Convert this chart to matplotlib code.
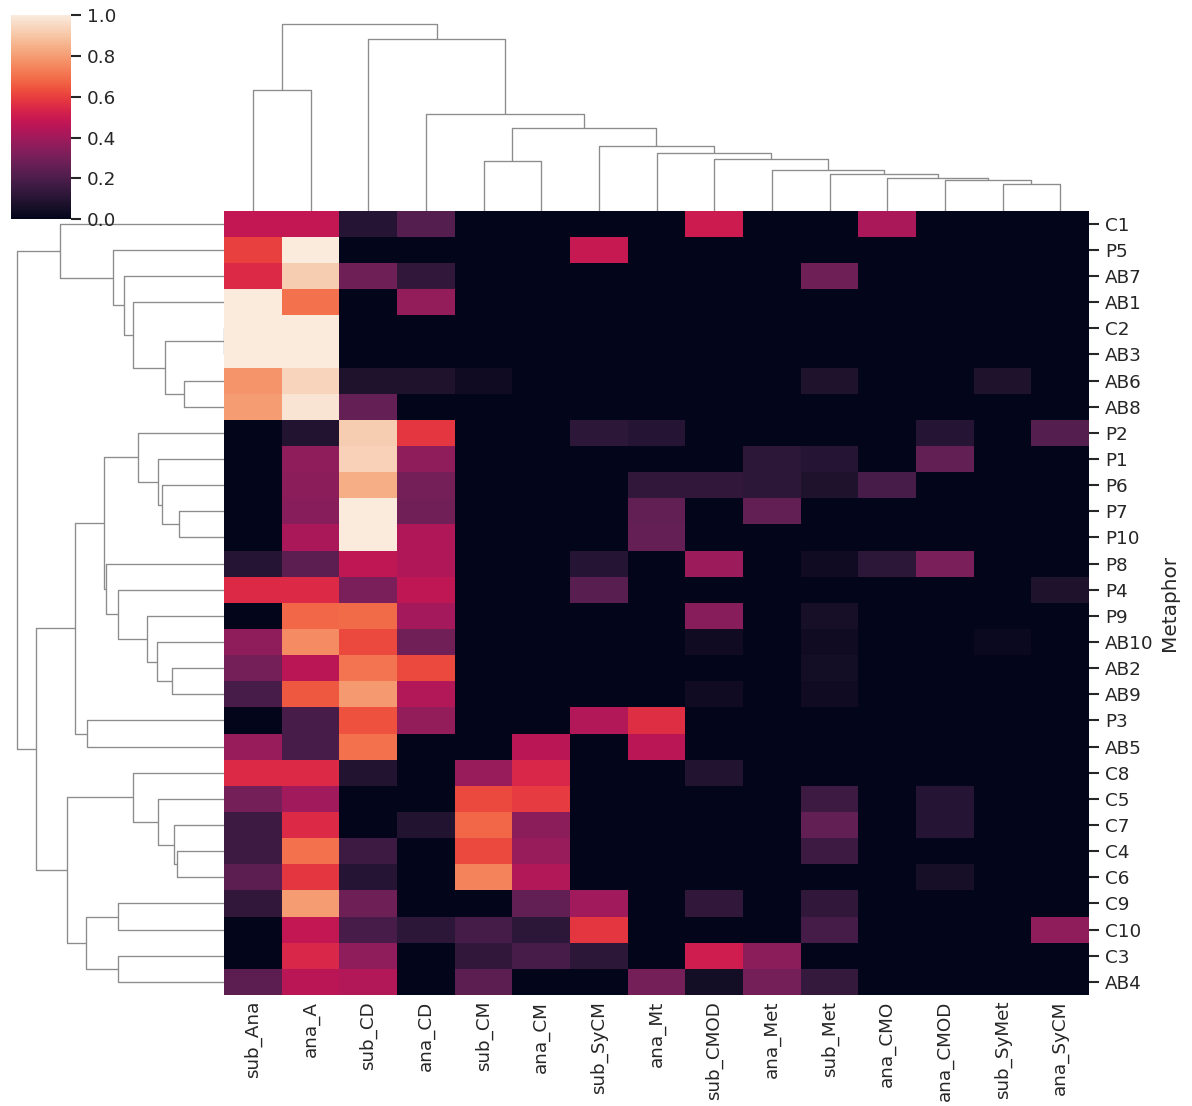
import numpy as np
import matplotlib
matplotlib.use('Agg')
import matplotlib.pyplot as plt
from matplotlib.collections import LineCollection
import seaborn as sns

sns.set_theme(style='white')
plt.rcParams['font.family'] = ['DejaVu Sans']

metaphors = ['C1', 'P5', 'AB7', 'AB1', 'C2', 'AB3', 'AB6', 'AB8', 'P2', 'P1',
             'P6', 'P7', 'P10', 'P8', 'P4', 'P9', 'AB10', 'AB2', 'AB9', 'P3',
             'AB5', 'C8', 'C5', 'C7', 'C4', 'C6', 'C9', 'C10', 'C3', 'AB4']
features = ['sub_Ana', 'ana_A', 'sub_CD', 'ana_CD', 'sub_CM', 'ana_CM',
            'sub_SyCM', 'ana_Mt', 'sub_CMOD', 'ana_Met', 'sub_Met', 'ana_CMO',
            'ana_CMOD', 'sub_SyMet', 'ana_SyCM']

scores = np.array([
    [0.48, 0.48, 0.10, 0.22, 0, 0, 0, 0, 0.50, 0, 0, 0.42, 0, 0, 0],
    [0.60, 1.00, 0, 0, 0, 0, 0.49, 0, 0, 0, 0, 0, 0, 0, 0],
    [0.55, 0.92, 0.28, 0.13, 0, 0, 0, 0, 0, 0, 0.28, 0, 0, 0, 0],
    [1.00, 0.70, 0, 0.37, 0, 0, 0, 0, 0, 0, 0, 0, 0, 0, 0],
    [1.00, 1.00, 0, 0, 0, 0, 0, 0, 0, 0, 0, 0, 0, 0, 0],
    [1.00, 1.00, 0, 0, 0, 0, 0, 0, 0, 0, 0, 0, 0, 0, 0],
    [0.78, 0.94, 0.08, 0.08, 0.04, 0, 0, 0, 0, 0, 0.08, 0, 0, 0.08, 0],
    [0.80, 0.98, 0.26, 0, 0, 0, 0, 0, 0, 0, 0, 0, 0, 0, 0],
    [0, 0.09, 0.92, 0.58, 0, 0, 0.12, 0.10, 0, 0, 0, 0, 0.10, 0, 0.22],
    [0, 0.36, 0.93, 0.36, 0, 0, 0, 0, 0, 0.12, 0.10, 0, 0.25, 0, 0],
    [0, 0.35, 0.84, 0.30, 0, 0, 0, 0.13, 0.13, 0.12, 0.08, 0.19, 0, 0, 0],
    [0, 0.34, 1.00, 0.29, 0, 0, 0, 0.25, 0, 0.25, 0, 0, 0, 0, 0],
    [0, 0.42, 1.00, 0.43, 0, 0, 0, 0.26, 0, 0, 0, 0, 0, 0, 0],
    [0.10, 0.24, 0.47, 0.43, 0, 0, 0.10, 0, 0.39, 0, 0.04, 0.12, 0.31, 0, 0],
    [0.55, 0.55, 0.31, 0.47, 0, 0, 0.23, 0, 0, 0, 0, 0, 0, 0, 0.08],
    [0, 0.68, 0.69, 0.41, 0, 0, 0, 0, 0.34, 0, 0.06, 0, 0, 0, 0],
    [0.36, 0.76, 0.62, 0.29, 0, 0, 0, 0, 0.04, 0, 0.04, 0, 0, 0.03, 0],
    [0.30, 0.46, 0.71, 0.62, 0, 0, 0, 0, 0, 0, 0.05, 0, 0, 0, 0],
    [0.19, 0.65, 0.79, 0.44, 0, 0, 0, 0, 0.04, 0, 0.04, 0, 0, 0, 0],
    [0, 0.19, 0.64, 0.37, 0, 0, 0.44, 0.56, 0, 0, 0, 0, 0, 0, 0],
    [0.38, 0.19, 0.70, 0, 0, 0.46, 0, 0.46, 0, 0, 0, 0, 0, 0, 0],
    [0.55, 0.55, 0.09, 0, 0.38, 0.54, 0, 0, 0.09, 0, 0, 0, 0, 0, 0],
    [0.30, 0.40, 0, 0, 0.62, 0.59, 0, 0, 0, 0, 0.16, 0, 0.10, 0, 0],
    [0.16, 0.55, 0, 0.09, 0.68, 0.35, 0, 0, 0, 0, 0.25, 0, 0.10, 0, 0],
    [0.16, 0.70, 0.16, 0, 0.62, 0.38, 0, 0, 0, 0, 0.16, 0, 0, 0, 0],
    [0.24, 0.58, 0.10, 0, 0.74, 0.44, 0, 0, 0, 0, 0, 0, 0.06, 0, 0],
    [0.13, 0.80, 0.28, 0, 0, 0.25, 0.40, 0, 0.13, 0, 0.13, 0, 0, 0, 0],
    [0, 0.48, 0.19, 0.12, 0.18, 0.12, 0.58, 0, 0, 0, 0.18, 0, 0, 0, 0.36],
    [0, 0.54, 0.36, 0, 0.13, 0.19, 0.12, 0, 0.51, 0.35, 0, 0, 0, 0, 0],
    [0.24, 0.46, 0.44, 0, 0.24, 0, 0, 0.30, 0.05, 0.30, 0.14, 0, 0, 0, 0],
])

# merges: (left id, right id, height); ids >= n refer to earlier merges
row_links = [
    (4, 5, 0.0), (6, 7, 0.403), (30, 31, 0.59), (3, 32, 0.91),
    (2, 33, 0.997), (1, 34, 1.113), (0, 35, 1.64),
    (11, 12, 0.45), (10, 37, 0.617), (9, 38, 0.657), (8, 39, 0.857),
    (17, 18, 0.52), (16, 41, 0.673), (15, 42, 0.773), (14, 43, 1.063),
    (13, 44, 1.18), (40, 45, 1.197), (19, 20, 1.367), (46, 47, 1.487),
    (24, 25, 0.47), (23, 49, 0.503), (22, 50, 0.657), (21, 51, 0.91),
    (26, 27, 1.063), (28, 29, 1.063), (53, 54, 1.383), (52, 55, 1.573),
    (48, 56, 1.88), (36, 57, 2.067),
]
col_links = [
    (13, 14, 0.267), (12, 15, 0.31), (11, 16, 0.324), (10, 17, 0.364),
    (9, 18, 0.407), (8, 19, 0.514), (7, 20, 0.577), (6, 21, 0.644),
    (4, 5, 0.497), (23, 22, 0.83), (3, 24, 0.97), (0, 1, 1.207),
    (2, 25, 1.714), (26, 27, 1.867),
]


def dendro_segments(links, n):
    pos = {i: 10 * i + 5 for i in range(n)}
    hgt = {i: 0.0 for i in range(n)}
    segs = []
    for k, (a, b, h) in enumerate(links):
        xa, xb = pos[a], pos[b]
        segs.append([(xa, hgt[a]), (xa, h), (xb, h), (xb, hgt[b])])
        pos[n + k] = (xa + xb) / 2.
        hgt[n + k] = h
    return segs, max(l[2] for l in links)


W, H = 1192, 1106
fig = plt.figure(figsize=(W / 120., H / 120.), dpi=120)


def px_axes(l, t, w, h):
    return fig.add_axes([l / W, 1 - (t + h) / H, w / W, h / H])


nr, nc = scores.shape
hm_l, hm_t, hm_w, hm_h = 224, 210.7, 865, 784.3
tree_color, tree_lw = '.55', .8

ax = px_axes(hm_l, hm_t, hm_w, hm_h)
cmap = sns.color_palette('rocket', as_cmap=True)
mesh = ax.pcolormesh(scores, cmap=cmap, vmin=0, vmax=1)
ax.set_xlim(0, nc)
ax.set_ylim(nr, 0)
for s in ax.spines.values():
    s.set_visible(False)
ax.set_xticks(np.arange(nc) + 0.5)
ax.set_xticklabels(features, rotation=90)
ax.set_yticks(np.arange(nr) + 0.5)
ax.set_yticklabels(metaphors, rotation=0)
ax.yaxis.set_ticks_position('right')
ax.yaxis.set_label_position('right')
ax.tick_params(axis='y', right=True, left=False, length=6, width=1.25)
ax.tick_params(axis='x', bottom=False, length=0)
ax.set_ylabel('Metaphor')

# row dendrogram
segs, top = dendro_segments(row_links, nr)
rax = px_axes(hm_l - top * 105, hm_t, top * 105, hm_h)
rax.add_collection(LineCollection([[(y, x) for x, y in s] for s in segs],
                                  linewidths=tree_lw, colors=tree_color))
rax.set_xlim(top * 1.05, 0)
rax.set_ylim(nr * 10, 0)
rax.set_axis_off()

# column dendrogram
segs, top = dendro_segments(col_links, nc)
cax_d = px_axes(hm_l, hm_t - top * 105, hm_w, top * 105)
cax_d.add_collection(LineCollection(segs, linewidths=tree_lw, colors=tree_color))
cax_d.set_xlim(0, nc * 10)
cax_d.set_ylim(0, top * 1.05)
cax_d.set_axis_off()

# colour bar
cb_ax = px_axes(10.7, 15, 60.3, 204.3)
cb = fig.colorbar(mesh, cax=cb_ax)
cb.outline.set_visible(False)
cb.set_ticks([0, 0.2, 0.4, 0.6, 0.8, 1.0])
cb_ax.yaxis.set_ticks_position('right')
cb_ax.tick_params(right=True, length=6, width=1.25)

fig.savefig('out.png', dpi=120)
